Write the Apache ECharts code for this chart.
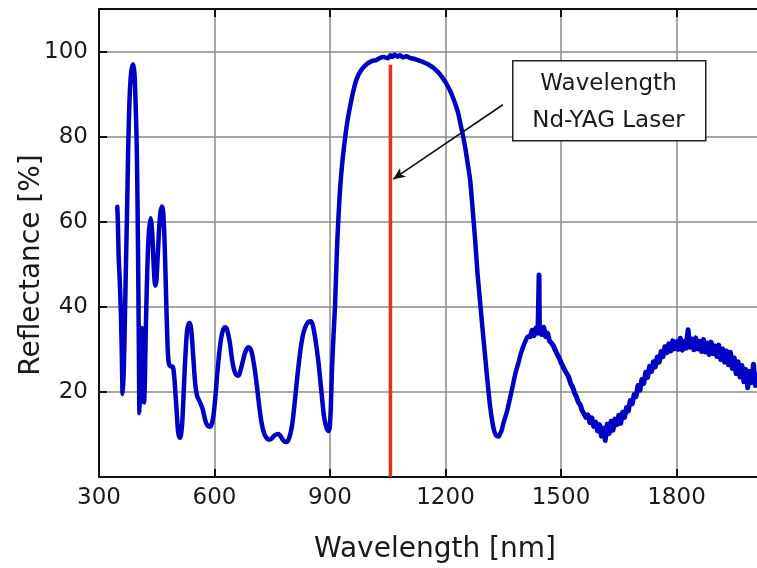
<!DOCTYPE html>
<html>
<head>
<meta charset="utf-8">
<script src="https://cdn.jsdelivr.net/npm/echarts@6/dist/echarts.min.js"></script>
<style>
html,body{margin:0;padding:0;background:#fff;overflow:hidden;}
#chart{width:757px;height:568px;}
</style>
</head>
<body>
<div id="chart"></div>
<script>
// ---- Data ----
var smoothWavelength = [347.5,349,351,354,357,359,361.5,364,367,370,373,376,379,382,385,389,392,394,396,398,400,402,404,405,407,409,411,413,415,417,419,421,424,427,430,434,437,440,443,446,449,452,456,460,464,467,470,473,475,477,479,482,486,490,493,496,499,502,505,508,511,514,517,520,523,526,529,533,536,539,542,545,548,551,555,560,565,569,573,577,581,586,590,594,598,602,606,610,614,618,622,627,631,635,640,645,650,655,660,664,668,673,678,683,688,692,696,700,705,710,715,720,725,730,735,740,745,750,755,760,765,769,773,777,781,785,790,794,798,802,806,810,815,820,825,830,835,840,845,850,855,860,865,870,875,880,884,888,892,896,899,902,905,909,913,916,919,922,926,932,939,945,952,960,969,980,995,1010,1020,1030,1040,1050,1057,1062,1068,1075,1082,1090,1098,1108,1118,1128,1140,1151,1160,1170,1178,1186,1194,1200,1206,1212,1218,1225,1233,1240,1246,1252,1258,1264,1270,1277,1283,1290,1296,1303,1309,1316,1322,1326,1330,1334,1338,1342,1346,1350,1355,1360,1365,1370,1376,1382,1389,1395,1402,1408,1414,1420];
var smoothReflectance = [63.5,60,52,46,38,30,19.5,24,36,50,63,78,88,93.5,96,97,95,91,85,78,65,47,25,15,20,32,35,27,19,17.5,22,32,44,53,58,60.8,59,54,48,45,46,51,58,62.5,63.6,62,56,47,40,34,29,26.5,26,26,25.5,23,19,15,11,9.5,9.2,10.5,14,20,26,31,34.5,36,36.2,35,32,28,24,21,19,18,17,16,14.5,13,12.2,11.8,11.9,12.8,15,18.5,23,27,30.5,33,34.5,35.2,35,33.8,31.5,28,25.5,24.2,23.8,24,25.2,27,28.8,30,30.5,30.3,29.5,27.8,25,21.5,17.5,14,11.5,10,9.2,8.8,8.8,9.2,9.7,10,10.1,9.9,9.4,8.8,8.4,8.2,8.4,9.2,10.5,12.5,15.5,19,23.5,27.5,31,33.5,35,36,36.5,36.6,35.8,33.5,30.5,27,22.5,18,14.5,12.5,11.3,10.8,11.5,16,25,33,40,48,55.5,61,67.5,74,79.5,83.5,87,90.5,93.5,95.5,97,97.8,98,98.5,98.7,98.4,99.1,98.7,99.3,98.8,99.1,98.6,98.9,98.5,98.3,98.0,97.6,97.2,96.7,96.1,95.4,94.6,93.6,92.8,91.8,90.8,89.5,87.8,85.5,82.5,80,77,73.5,69.8,63.5,55.7,48,41,35,28.3,22.5,16.5,12.8,11,10,9.6,9.5,10.2,11,12.5,14,15.5,17.5,19.5,22,24.5,26.7,28.8,30.7,32,33,33.0];
var noisyWavelength = [1420,1425,1430,1435,1440,1442,1443,1444,1445,1450,1455,1460,1465,1470,1475,1480,1485,1490,1495,1500,1505,1510,1515,1520,1525,1530,1535,1540,1545,1550,1555,1560,1565,1570,1575,1580,1585,1590,1595,1600,1605,1610,1615,1620,1625,1630,1635,1640,1645,1650,1655,1660,1665,1670,1675,1680,1685,1690,1695,1700,1705,1710,1715,1720,1725,1730,1735,1740,1745,1750,1755,1760,1765,1770,1775,1780,1785,1790,1795,1800,1805,1810,1815,1820,1825,1830,1835,1840,1845,1850,1855,1860,1865,1870,1875,1880,1885,1890,1895,1900,1905,1910,1915,1920,1925,1930,1935,1940,1945,1950,1955,1960,1965,1970,1975,1980,1985,1990,1995,2000,2005,2010];
var noisyReflectance = [33.0,34.5,33.2,35.0,33.8,34.2,47.5,34.3,34.6,33.5,35.2,33.0,33.8,32.0,31.5,30.9,29.8,28.9,28.0,26.9,26.5,25.1,24.3,23.5,22.0,21.2,19.8,18.9,17.6,17.0,15.6,15.2,14.0,14.6,12.8,13.9,11.9,12.9,10.8,12.3,9.6,11.5,8.6,12.4,10.2,13.1,11.0,13.6,12.3,14.5,12.6,15.2,14.0,16.3,15.5,18.0,17.2,19.4,18.9,21.5,20.4,22.9,22.0,24.6,23.4,26.0,24.8,27.1,25.9,28.2,27.0,29.5,28.3,30.6,29.2,31.3,29.6,32.0,30.1,31.8,30.0,32.6,29.8,31.9,30.3,34.6,30.5,32.4,29.9,32.7,30.1,31.9,29.5,32.3,29.4,31.5,28.8,31.7,29.0,30.8,28.3,31.0,27.6,30.1,27.0,29.6,26.4,29.3,25.5,28.0,24.3,27.1,23.5,26.2,22.4,25.3,21.0,24.8,22.2,26.5,21.5,24.0];
var laserWavelength = 1057;
var laserTop = 96.9;
var xTicks = [300, 600, 900, 1200, 1500, 1800];
var yTicks = [20, 40, 60, 80, 100];
var arrowFrom = [1349, 87.5];
var arrowTo = [1064, 70];

function pairs(xs, ys){ return xs.map(function(x,i){ return [x, ys[i]]; }); }

var chart = echarts.init(document.getElementById('chart'), null, {renderer:'canvas'});
var FONT = '"DejaVu Sans", Verdana, sans-serif';
var blue = '#0000c4';
var red = '#e2301c';

var option = {
  animation: false,
  backgroundColor: '#ffffff',
  grid: {left: 99, top: 9, width: 693, height: 468, containLabel: false, outerBoundsMode: 'none'},
  xAxis: [{
    type: 'value', min: 300, max: 2100, interval: 300, position: 'bottom',
    axisLine: {show: true, onZero: false, lineStyle: {color: '#111', width: 2}},
    axisTick: {show: true, inside: true, length: 8, lineStyle: {color: '#111', width: 2}},
    axisLabel: {show: true, color: '#1a1a1a', fontSize: 23, fontFamily: FONT, margin: 10,
      formatter: function(v){ return xTicks.indexOf(v) >= 0 ? String(v) : ''; }},
    splitLine: {show: true, lineStyle: {color: '#8a8a8a', width: 1.5}}
  }, {
    type: 'value', min: 300, max: 2100, interval: 300, position: 'top',
    axisLine: {show: true, onZero: false, lineStyle: {color: '#111', width: 2}},
    axisTick: {show: true, inside: true, length: 8, lineStyle: {color: '#111', width: 2}},
    axisLabel: {show: false},
    splitLine: {show: false}
  }],
  yAxis: {
    type: 'value', min: 0, max: 110, interval: 20,
    axisLine: {show: true, onZero: false, lineStyle: {color: '#111', width: 2}},
    axisTick: {show: true, inside: true, length: 8, lineStyle: {color: '#111', width: 2}},
    axisLabel: {show: true, color: '#1a1a1a', fontSize: 23, fontFamily: FONT, margin: 11,
      showMinLabel: false, showMaxLabel: false,
      formatter: function(v){ return yTicks.indexOf(v) >= 0 ? String(v) : ''; }},
    splitLine: {show: true, lineStyle: {color: '#8a8a8a', width: 1.5}}
  },
  series: [{
    type: 'line', name: 'R1', data: pairs(smoothWavelength, smoothReflectance),
    showSymbol: false, symbol: 'none', smooth: 0.25, clip: true,
    lineStyle: {color: blue, width: 4.5, cap: 'round', join: 'round'}, z: 3
  }, {
    type: 'line', name: 'R2', data: pairs(noisyWavelength, noisyReflectance),
    showSymbol: false, symbol: 'none', smooth: false, clip: true,
    lineStyle: {color: blue, width: 5, cap: 'round', join: 'round'}, z: 3
  }, {
    type: 'line', name: 'laser', data: [[laserWavelength, 0], [laserWavelength, laserTop]],
    showSymbol: false, symbol: 'none',
    lineStyle: {color: red, width: 3.5}, z: 4,
    markLine: {
      silent: true, animation: false,
      symbol: ['none', 'arrow'], symbolSize: [8, 12],
      label: {show: false},
      lineStyle: {color: '#111', width: 1.6, type: 'solid'},
      emphasis: {disabled: true},
      data: [[{coord: arrowFrom}, {coord: arrowTo}]]
    }
  }],
  graphic: [
    {type: 'rect', left: 512, top: 60, shape: {width: 193, height: 80}, z: 100,
     style: {fill: '#ffffff', stroke: '#222', lineWidth: 1.5}},
    {type: 'text', x: 608.5, y: 84, z: 101,
     style: {text: 'Wavelength', fill: '#1a1a1a', font: '23px ' + FONT, textAlign: 'center', textVerticalAlign: 'middle'}},
    {type: 'text', x: 608.5, y: 121, z: 101,
     style: {text: 'Nd-YAG Laser', fill: '#1a1a1a', font: '23px ' + FONT, textAlign: 'center', textVerticalAlign: 'middle'}},
    {type: 'text', x: 435, y: 550, z: 101,
     style: {text: 'Wavelength [nm]', fill: '#1a1a1a', font: '28px ' + FONT, textAlign: 'center', textVerticalAlign: 'middle'}},
    {type: 'text', x: 32, y: 265, rotation: Math.PI / 2, z: 101,
     style: {text: 'Reflectance [%]', fill: '#1a1a1a', font: '28px ' + FONT, textAlign: 'center', textVerticalAlign: 'middle'}}
  ]
};
chart.setOption(option);
</script>
</body>
</html>
